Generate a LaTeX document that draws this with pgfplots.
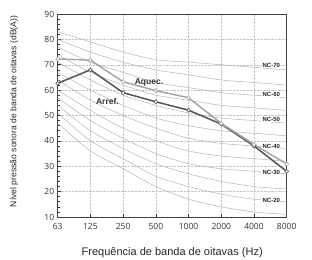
\documentclass[border=0pt]{standalone}
\usepackage{pgfplots}
\pgfplotsset{compat=1.18}
\usepackage{fontspec}
\setmainfont{Liberation Sans}
\newfontfamily\tickfont{Open Sans}
\definecolor{aq}{HTML}{A6A6A6}
\definecolor{ar}{HTML}{555555}
\definecolor{ncc}{HTML}{B4B4B4}
\begin{document}
\begin{tikzpicture}
\path[use as bounding box] (-57.7pt,-42pt) rectangle (254.3pt,217pt);
\begin{axis}[
  at={(0,0)}, anchor=south west,
  scale only axis, width=229pt, height=203pt,
  xmin=0, xmax=7, ymin=10, ymax=90,
  xtick={0,...,7}, xticklabels={63,125,250,500,1000,2000,4000,8000},
  ytick={10,20,...,90}, minor y tick num=4,
  xtick pos=bottom, ytick pos=left,
  tick align=inside,
  major tick length=3.5pt, minor tick length=2pt,
  tick style={black!80, line width=0.6pt},
  grid=major, grid style={densely dotted, gray!45, line width=0.5pt},
  axis line style={black!75, line width=0.9pt},
  /pgf/number format/assume math mode=true,
  ticklabel style={font=\tickfont\fontsize{8.5}{10}\selectfont, text=black!80},
  xticklabel style={yshift=-3pt},
  xlabel={Frequência de banda de oitavas (Hz)},
  ylabel={Nível pressão sonora de banda de oitavas (dB(A))},
  xlabel style={font=\fontsize{11}{13}\selectfont, text=black!85, at={(axis description cs:0.5,-0.178)}, anchor=center},
  ylabel style={font=\fontsize{8.6}{10}\selectfont, text=black!85, at={(axis description cs:-0.19,0.52)}, anchor=center},
  nc/.style={ncc, line width=0.5pt, smooth, tension=0.4, no markers},
  clip=true,
]
\addplot[nc] coordinates {(0,47)(1,36)(2,29)(3,22)(4,17)(5,14)(6,12)(7,11)};
\addplot[nc] coordinates {(0,51)(1,40)(2,33)(3,26)(4,22)(5,19)(6,17)(7,16)};
\addplot[nc] coordinates {(0,54)(1,44)(2,37)(3,31)(4,27)(5,24)(6,22)(7,21)};
\addplot[nc] coordinates {(0,57)(1,48)(2,41)(3,35)(4,31)(5,29)(6,28)(7,27)};
\addplot[nc] coordinates {(0,60)(1,52)(2,45)(3,40)(4,36)(5,34)(6,33)(7,32)};
\addplot[nc] coordinates {(0,64)(1,56)(2,50)(3,45)(4,41)(5,39)(6,38)(7,37)};
\addplot[nc] coordinates {(0,67)(1,60)(2,54)(3,49)(4,46)(5,44)(6,43)(7,42)};
\addplot[nc] coordinates {(0,71)(1,64)(2,58)(3,54)(4,51)(5,49)(6,48)(7,47)};
\addplot[nc] coordinates {(0,74)(1,67)(2,62)(3,58)(4,56)(5,54)(6,53)(7,52)};
\addplot[nc] coordinates {(0,77)(1,71)(2,67)(3,63)(4,61)(5,59)(6,58)(7,57)};
\addplot[nc] coordinates {(0,80)(1,75)(2,71)(3,68)(4,66)(5,64)(6,63)(7,62)};
\addplot[nc] coordinates {(0,83)(1,79)(2,75)(3,72)(4,71)(5,70)(6,69)(7,68)};

\addplot[ar, line width=1.5pt, mark=*, mark size=1.9pt, mark options={fill=white, draw=ar, line width=0.6pt}]
  coordinates {(0,62.7)(1,68)(2,59)(3,55.4)(4,52.1)(5,46.6)(6,38)(7,28)};
\addplot[aq, line width=1.5pt, mark=*, mark size=1.9pt, mark options={fill=white, draw=aq, line width=0.6pt}]
  coordinates {(0,72.3)(1,71.8)(2,63.3)(3,59.8)(4,57)(5,46.9)(6,38.6)(7,30.9)};

\begin{scope}[every node/.style={font=\bfseries\fontsize{6}{7}\selectfont, text=black!85, fill=white, inner sep=0.5pt}]
\node at (axis cs:6.53,69.6) {NC-70};
\node at (axis cs:6.53,58.4) {NC-60};
\node at (axis cs:6.53,48.4) {NC-50};
\node at (axis cs:6.53,38.0) {NC-40};
\node at (axis cs:6.53,27.5) {NC-30};
\node at (axis cs:6.53,16.5) {NC-20};
\end{scope}
\node[font=\bfseries\fontsize{8.5}{10}\selectfont, text=black!80] at (axis cs:2.79,63.1) {Aquec.};
\node[font=\bfseries\fontsize{8.5}{10}\selectfont, text=black!80] at (axis cs:1.52,55.7) {Arref.};
\end{axis}
\end{tikzpicture}
\end{document}
